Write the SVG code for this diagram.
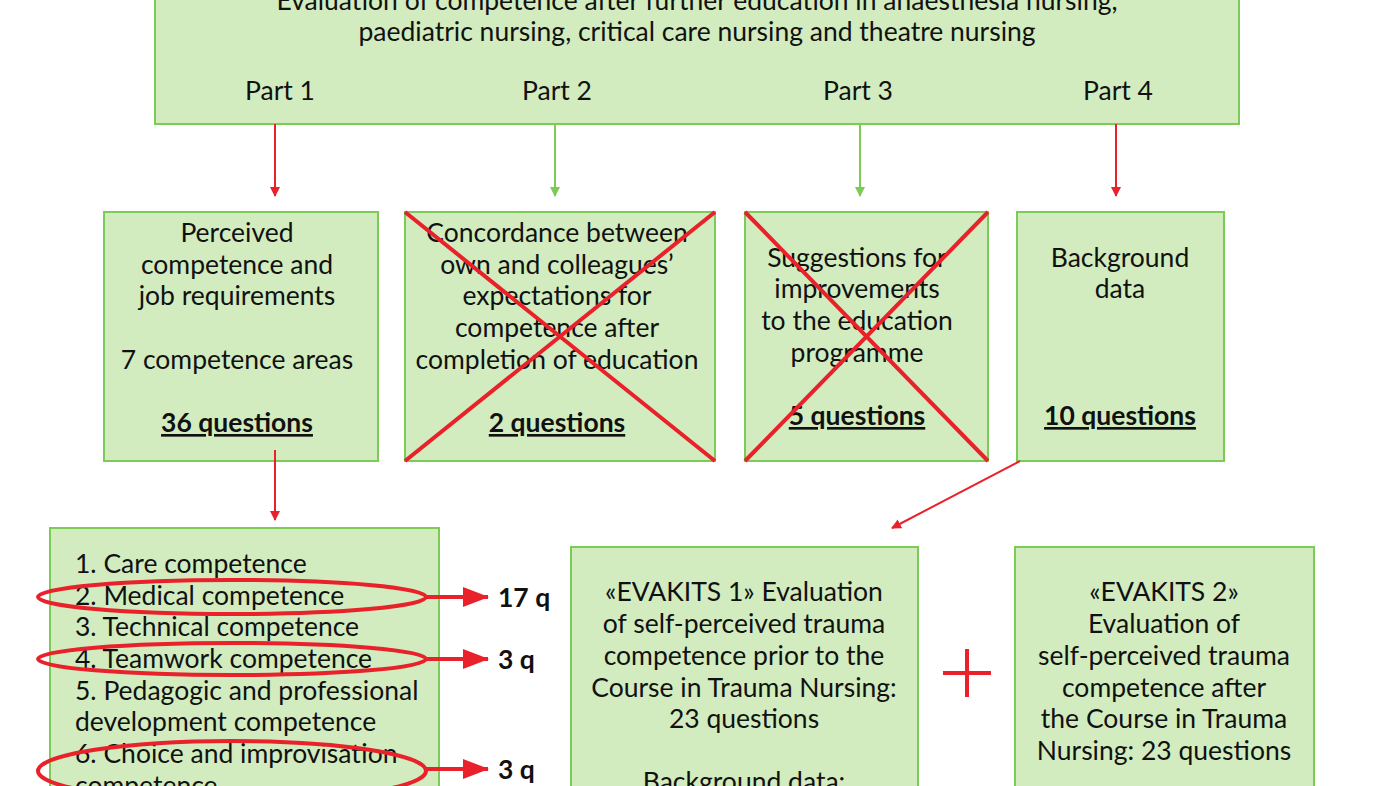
<svg xmlns="http://www.w3.org/2000/svg" width="1400" height="786" viewBox="0 0 1400 786">
<style>
.b{fill:#d2ecbf;stroke:#7ccb54;stroke-width:2}
text{font-family:Lato,"Liberation Sans",sans-serif;font-size:26.5px;fill:#111}
.c{text-anchor:middle}
.u{font-weight:bold;text-decoration:underline}
.r{stroke:#e8212b;stroke-width:2;fill:none}
.g{stroke:#7ccb54;stroke-width:2;fill:none}
.x{stroke:#e8212b;stroke-width:4}
.e{stroke:#e8212b;stroke-width:4;fill:none}
</style>
<defs>
<marker id="ar" markerWidth="10" markerHeight="10" refX="9" refY="5" orient="auto" markerUnits="userSpaceOnUse"><path d="M0,0L10,5L0,10z" fill="#e8212b"/></marker>
<marker id="ag" markerWidth="10" markerHeight="10" refX="9" refY="5" orient="auto" markerUnits="userSpaceOnUse"><path d="M0,0L10,5L0,10z" fill="#7ccb54"/></marker>
<marker id="abig" markerWidth="26" markerHeight="20" refX="25" refY="10" orient="auto" markerUnits="userSpaceOnUse"><path d="M0,0L26,10L0,20z" fill="#e8212b"/></marker>
</defs>
<g id="top"><rect class="b" x="155" y="-20" width="1084" height="144"/>
<text class="c" x="697" y="10">Evaluation of competence after further education in anaesthesia nursing,</text>
<text class="c" x="697" y="41">paediatric nursing, critical care nursing and theatre nursing</text>
<text class="c" x="280" y="100">Part 1</text><text class="c" x="557" y="100">Part 2</text><text class="c" x="858" y="100">Part 3</text><text class="c" x="1118" y="100">Part 4</text></g>
<g id="n1"><rect class="b" x="104" y="212" width="274" height="249"/>
<text class="c" x="237" y="242">Perceived</text><text class="c" x="237" y="274">competence and</text><text class="c" x="237" y="305">job requirements</text><text class="c" x="237" y="369">7 competence areas</text><text class="c u" x="237" y="432">36 questions</text></g>
<g id="n2"><rect class="b" x="405" y="212" width="310" height="249"/>
<text class="c" x="557" y="242">Concordance between</text><text class="c" x="557" y="274">own and colleagues’</text><text class="c" x="557" y="305">expectations for</text><text class="c" x="557" y="337">competence after</text><text class="c" x="557" y="369">completion of education</text><text class="c u" x="557" y="432">2 questions</text>
<path class="x" d="M405,212L715,461M715,212L405,461"/></g>
<g id="n3"><rect class="b" x="745" y="212" width="243" height="249"/>
<text class="c" x="857" y="267">Suggestions for</text><text class="c" x="857" y="298">improvements</text><text class="c" x="857" y="330">to the education</text><text class="c" x="857" y="362">programme</text><text class="c u" x="857" y="425">5 questions</text>
<path class="x" d="M745,212L988,461M988,212L745,461"/></g>
<g id="n4"><rect class="b" x="1017" y="212" width="207" height="249"/>
<text class="c" x="1120" y="267">Background</text><text class="c" x="1120" y="298">data</text><text class="c u" x="1120" y="425">10 questions</text></g>
<g id="n5"><rect class="b" x="50" y="528" width="389" height="280"/>
<text x="75" y="573">1. Care competence</text><text x="75" y="605">2. Medical competence</text><text x="75" y="636">3. Technical competence</text><text x="75" y="668">4. Teamwork competence</text><text x="75" y="700">5. Pedagogic and professional</text><text x="75" y="731">development competence</text><text x="75" y="763">6. Choice and improvisation</text><text x="75" y="795">competence</text></g>
<g id="n6"><rect class="b" x="571" y="547" width="347" height="260"/>
<text class="c" x="744" y="601">«EVAKITS 1» Evaluation</text><text class="c" x="744" y="633">of self-perceived trauma</text><text class="c" x="744" y="665">competence prior to the</text><text class="c" x="744" y="697">Course in Trauma Nursing:</text><text class="c" x="744" y="728">23 questions</text><text class="c" x="744" y="791">Background data:</text></g>
<g id="n7"><rect class="b" x="1015" y="547" width="299" height="260"/>
<text class="c" x="1164" y="601">«EVAKITS 2»</text><text class="c" x="1164" y="633">Evaluation of</text><text class="c" x="1164" y="665">self-perceived trauma</text><text class="c" x="1164" y="697">competence after</text><text class="c" x="1164" y="728">the Course in Trauma</text><text class="c" x="1164" y="760">Nursing: 23 questions</text></g>
<g id="plus"><path d="M943,673H991M967,649V697" stroke="#e8212b" stroke-width="4"/></g>
<g id="connectors">
<path class="r" d="M275,124V196" marker-end="url(#ar)"/>
<path class="g" d="M555,124V196" marker-end="url(#ag)"/>
<path class="g" d="M860,124V196" marker-end="url(#ag)"/>
<path class="r" d="M1116,124V196" marker-end="url(#ar)"/>
<path class="r" d="M275,450V520" marker-end="url(#ar)"/>
<path class="r" d="M1020,461L892,528" marker-end="url(#ar)"/>
<ellipse class="e" cx="232" cy="597" rx="194" ry="17"/>
<ellipse class="e" cx="232" cy="659" rx="194" ry="16"/>
<ellipse class="e" cx="232" cy="771" rx="194" ry="30"/>
<path class="e" d="M425,597H488" marker-end="url(#abig)"/>
<path class="e" d="M425,659H488" marker-end="url(#abig)"/>
<path class="e" d="M425,769H488" marker-end="url(#abig)"/>
</g>
<g id="labels"><text x="498" y="607" font-weight="bold">17 q</text><text x="498" y="669" font-weight="bold">3 q</text><text x="498" y="779" font-weight="bold">3 q</text></g>
</svg>
